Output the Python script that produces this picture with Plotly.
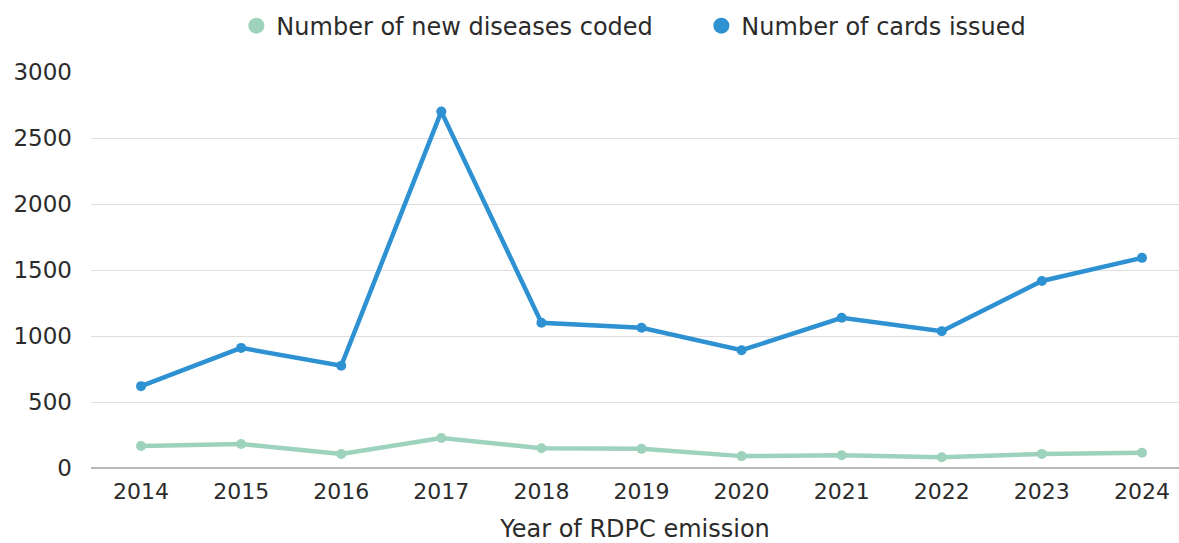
import plotly.graph_objects as go

years = [2014, 2015, 2016, 2017, 2018, 2019, 2020, 2021, 2022, 2023, 2024]
new_diseases = [167, 182, 106, 227, 150, 145, 90, 96, 81, 107, 116]
cards_issued = [620, 910, 775, 2700, 1100, 1062, 892, 1138, 1036, 1417, 1592]
y_ticks = [0, 500, 1000, 1500, 2000, 2500, 3000]

green = "#9dd2bc"
blue = "#2d91d2"
text_color = "#2b2b2b"
font = "'DejaVu Sans', sans-serif"

fig = go.Figure()
fig.add_trace(go.Scatter(x=years, y=new_diseases, mode="lines+markers",
                         line=dict(color=green, width=4.5), marker=dict(size=10, color=green),
                         showlegend=False, name="Number of new diseases coded"))
fig.add_trace(go.Scatter(x=years, y=cards_issued, mode="lines+markers",
                         line=dict(color=blue, width=4.5), marker=dict(size=10, color=blue),
                         showlegend=False, name="Number of cards issued"))
# legend entries (circle markers only)
fig.add_trace(go.Scatter(x=[None], y=[None], mode="markers", marker=dict(size=22, color=green),
                         name="Number of new diseases coded"))
fig.add_trace(go.Scatter(x=[None], y=[None], mode="markers", marker=dict(size=22, color=blue),
                         name="Number of cards issued"))

fig.update_layout(
    width=1179, height=543,
    margin=dict(l=91, r=0, t=72, b=75),
    paper_bgcolor="white", plot_bgcolor="white",
    font=dict(family=font, size=22, color=text_color),
    legend=dict(orientation="h", x=0.561, xanchor="center", y=1.116, yanchor="middle",
                font=dict(size=24, color=text_color), traceorder="normal",
                entrywidth=420),
    xaxis=dict(range=[2013.5, 2024.37], tickvals=years, ticktext=[str(y) for y in years],
               showgrid=False, zeroline=False, showline=False, ticks="",
               ticklabelstandoff=8,
               tickfont=dict(size=22, color=text_color),
               title=dict(text="Year of RDPC emission", font=dict(size=24, color=text_color), standoff=19)),
    yaxis=dict(range=[0, 3000], tickvals=y_ticks,
               showgrid=True, gridcolor="#dedede", gridwidth=1,
               zeroline=True, zerolinecolor="#b8b8b8", zerolinewidth=2,
               showline=False, ticks="", ticklabelstandoff=18,
               tickfont=dict(size=23, color=text_color)),
)

fig.write_html("out.html")
